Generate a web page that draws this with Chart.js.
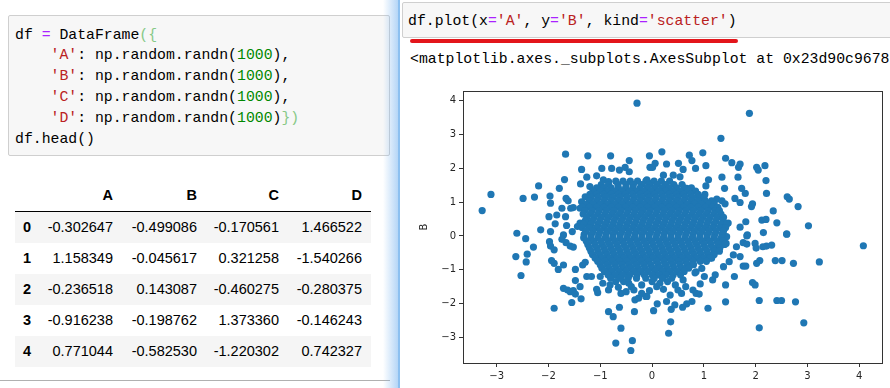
<!DOCTYPE html>
<html>
<head>
<meta charset="utf-8">
<script src="https://cdn.jsdelivr.net/npm/chart.js@4.4.0/dist/chart.umd.min.js"></script>
<style>
  body { margin: 0; width: 890px; height: 388px; background: #fff; position: relative; overflow: hidden; font-family: "Liberation Sans", Arial, sans-serif; }
  .box { position: absolute; background: #f7f7f7; border: 1px solid #cfcfcf; border-radius: 2px; box-sizing: border-box; }
  .code { position: absolute; font-family: "Liberation Mono", monospace; font-size: 14.8px; line-height: 20.8px; white-space: pre; color: #000; }
  .op { color: #a2f; }
  .str { color: #ba2121; }
  .num { color: #080; }
  .br { color: #86c986; }
  #table { position: absolute; left: 15px; top: 180px; width: 356px; font-size: 14.5px; color: #000; }
  .row { position: relative; height: 31px; line-height: 31px; }
  .row div { position: absolute; top: 0; text-align: right; }
  .head { font-weight: bold; border-bottom: 1px solid #000; height: 31px; }
  .even { background: #f5f5f5; }
  .idx { font-weight: bold; left: 8px; text-align: left !important; }
  #sel { position: absolute; left: 383px; top: 0; width: 15px; height: 388px; background: linear-gradient(to right, rgba(120,180,240,0), rgba(120,180,240,0.55)); }
  #right { position: absolute; left: 398px; top: 0; width: 492px; height: 388px; background: #fff; border-left: 2px solid #8cc0f0; box-sizing: border-box; }
  #chart { position: absolute; left: 400px; top: 80px; }
</style>
</head>
<body>

<div class="box" style="left:8px; top:15px; width:382px; height:141px;"></div>
<div class="code" style="left:15px; top:24.6px;">df <span class="op">=</span> DataFrame<span class="br">({</span>
    <span class="str">'A'</span>: np.random.randn(<span class="num">1000</span>),
    <span class="str">'B'</span>: np.random.randn(<span class="num">1000</span>),
    <span class="str">'C'</span>: np.random.randn(<span class="num">1000</span>),
    <span class="str">'D'</span>: np.random.randn(<span class="num">1000</span>)<span class="br">})</span>
df.head()</div>

<div id="table"></div>
<div style="position:absolute; left:0; top:380px; width:390px; height:1px; background:#b0b0b0;"></div>

<div id="sel"></div>
<div id="right"></div>
<div class="box" style="left:402px; top:2px; width:500px; height:36px;"></div>
<div class="code" style="left:408px; top:10.6px;">df.plot(x<span class="op">=</span><span class="str">'A'</span>, y<span class="op">=</span><span class="str">'B'</span>, kind<span class="op">=</span><span class="str">'scatter'</span>)</div>
<div style="position:absolute; left:410px; top:39px; width:328px; height:3.5px; background:#e3151b; border-radius:2px;"></div>
<div class="code" style="left:410px; top:48.6px;">&lt;matplotlib.axes._subplots.AxesSubplot at 0x23d90c9678</div>

<canvas id="chart" width="490" height="308"></canvas>

<script>
// df.head() table
const tableColumns = ["A", "B", "C", "D"];
const tableIndex = ["0", "1", "2", "3", "4"];
const colA = ["-0.302647", "1.158349", "-0.236518", "-0.916238", "0.771044"];
const colB = ["-0.499086", "-0.045617", "0.143087", "-0.198762", "-0.582530"];
const colC = ["-0.170561", "0.321258", "-0.460275", "1.373360", "-1.220302"];
const colD = ["1.466522", "-1.540266", "-0.280375", "-0.146243", "0.742327"];

// scatter axes
const xTicks = [-3, -2, -1, 0, 1, 2, 3, 4];
const yTicks = [-3, -2, -1, 0, 1, 2, 3, 4];
const yTitle = "B";

// points, [A, B]
const outerPoints = [
  [-0.29, 3.93], [-3.28, 0.75], [-3.11, 1.23], [-1.67, 2.42], [-1.24, 2.37], [-0.80, 2.37], [-2.49, 1.11], [-2.27, 1.15],
  [-2.19, 1.48], [-1.97, 1.18], [-1.96, 0.97], [-1.79, 1.41], [-1.69, 1.67], [-1.36, 1.97], [-1.26, 1.74], [-1.07, 1.78],
  [-0.97, 2.0], [-0.78, 2.0], [-0.63, 1.95], [-0.52, 2.03], [-0.44, 2.23], [-0.44, 1.90], [-0.05, 2.37], [-0.04, 2.03],
  [-2.61, 0.08], [-2.44, -0.08], [-2.15, 0.18], [-1.96, 0.13], [-1.99, 0.57], [-1.84, 0.62], [-1.74, 0.82], [-1.67, 0.57],
  [-1.87, 0.36], [-1.65, 0.31], [-1.66, 1.11], [-1.62, 1.04], [-1.57, 0.82], [-1.52, 0.84], [-1.39, 0.82], [-1.54, 0.13],
  [-1.71, 0.03], [-1.38, 1.54], [-1.20, 1.46], [-1.36, 1.01], [-1.29, 1.16], [-1.39, 0.38], [-1.44, 0.28], [-1.20, 0.38],
  [-1.03, 1.41], [-0.94, 1.66], [-0.84, 1.61], [-0.91, 1.16],
  [1.88, 3.63], [1.33, 2.89], [0.19, 2.49], [0.72, 2.39], [0.77, 2.23], [0.98, 2.46], [1.04, 2.08], [0.84, 2.0],
  [0.60, 1.97], [0.51, 2.15], [0.28, 2.13], [0.06, 2.15], [0.01, 2.03], [1.42, 2.30], [1.54, 2.17], [1.70, 2.13],
  [1.67, 2.03], [2.02, 2.03], [2.05, 1.95], [2.18, 2.08], [1.35, 1.74], [1.66, 1.74], [2.20, 1.64], [1.09, 1.66],
  [1.04, 1.48], [1.40, 1.41], [1.73, 1.41], [1.80, 1.26], [2.21, 1.26], [2.61, 1.16], [2.65, 1.09], [2.82, 0.87],
  [2.34, 0.74], [1.94, 0.95], [1.92, 0.87], [1.60, 1.11], [1.70, 0.99], [1.25, 1.09], [1.35, 1.04], [1.41, 0.95],
  [2.12, 0.47], [2.20, 0.49], [2.41, 0.39], [3.02, 0.30], [2.60, 0.06], [2.15, 0.10], [1.81, 0.42], [1.70, 0.26],
  [1.84, 0.03], [1.47, 0.38], [1.04, 0.95], [0.96, 1.11], [0.77, 1.11], [0.67, 1.41], [0.54, 1.75], [0.41, 1.80],
  [0.22, 1.80], [-0.10, 1.66], [-0.04, 1.56],
  [-2.29, -0.33], [-2.41, -0.54], [-2.63, -0.61], [-2.43, -0.77], [-2.53, -1.17], [-1.98, -0.17], [-1.96, -0.30], [-1.89, -0.41],
  [-1.94, -0.73], [-1.89, -0.81], [-1.71, -0.86], [-1.81, -0.99], [-1.74, -0.10], [-1.66, -0.20], [-1.58, -0.30], [-1.52, -0.33],
  [-1.48, -0.99], [-1.48, -1.32], [-1.71, -1.55], [-1.63, -1.60], [-1.58, -1.65], [-1.52, -1.62], [-1.48, -1.72], [-1.39, -1.50],
  [-1.37, -1.86], [-1.55, -1.97], [-1.89, -2.14], [-1.34, -0.86], [-1.29, -0.78], [-1.26, -1.20], [-1.17, -1.20], [-1.07, -1.58],
  [-1.05, -1.68], [-1.00, -1.20], [-0.84, -2.24], [-0.75, -2.39], [-0.63, -2.11], [-0.60, -2.73], [-0.70, -3.17], [-0.38, -3.10],
  [-0.41, -3.39], [-0.34, -2.24], [-0.60, -1.70], [-0.65, -1.52], [-0.33, -1.89], [-0.26, -1.84], [-0.12, -1.79], [-0.84, -1.60],
  [-0.81, -1.45],
  [4.08, -0.29], [3.23, -0.77], [2.73, -0.81], [2.38, -0.73], [2.51, -0.73], [2.60, 0.05], [2.21, -0.30], [2.31, -0.27],
  [2.14, -0.32], [1.99, -0.22], [2.01, -0.36], [2.08, -0.73], [2.02, -0.81], [1.83, 0.0], [1.76, -0.20], [1.83, -0.24],
  [1.63, -0.32], [1.57, -0.56], [1.70, -0.61], [1.76, -0.89], [1.81, -0.89], [1.59, -1.20], [1.38, -0.91], [1.49, -0.76],
  [1.94, -1.38], [1.99, -1.45], [1.42, -1.45], [2.07, -1.91], [2.41, -1.91], [2.50, -1.91], [2.77, -1.95], [2.93, -2.57],
  [2.07, -2.72], [1.42, -1.95], [1.08, -2.14], [1.01, -1.20], [0.96, -0.96], [0.85, -1.06], [1.17, -1.30], [1.22, -1.15],
  [0.93, -1.42], [0.85, -1.70], [0.91, -1.72], [0.79, -1.60], [0.77, -1.94], [0.67, -2.01], [0.59, -2.11], [0.57, -1.70],
  [0.36, -2.54], [0.32, -2.88], [0.37, -2.17], [0.03, -2.21], [0.10, -2.01], [0.28, -1.94], [0.44, -2.04], [-0.10, -1.79],
  [0.09, -1.50], [0.22, -1.58], [0.83, -1.09], [1.43, -0.22], [1.44, -0.02], [1.25, -0.36], [1.15, -0.66],
  [0.0, -1.35], [0.15, -1.40], [0.30, -1.35], [0.45, -1.45], [0.60, -1.30], [-0.20, -1.45], [-0.40, -1.50], [-0.55, -1.35],
  [0.50, -1.60], [-0.05, -1.62], [0.35, -1.75], [0.65, -1.50], [-0.70, -1.35], [-0.50, -1.65], [-0.35, -1.60], [-0.20, -1.70],
  [-0.95, -1.40], [-0.45, -1.40]
];

// the dense middle, one row per B value: [B, [A, A, ...]]
const coreRows = [
  [1.62, [-0.7, -0.56, -0.42, -0.28, -0.12, 0.04, 0.18, 0.34]],
  [1.52, [-0.98, -0.84, -0.66, -0.5, -0.36, -0.2, -0.06, 0.1, 0.26, 0.42, 0.58]],
  [1.42, [-1.07, -0.93, -0.79, -0.65, -0.51, -0.37, -0.23, -0.09, 0.05, 0.19, 0.33, 0.47, 0.62, 0.76]],
  [1.33, [-1.14, -1.0, -0.86, -0.72, -0.58, -0.44, -0.3, -0.16, -0.02, 0.12, 0.26, 0.4, 0.54, 0.7, 0.84]],
  [1.23, [-1.2, -1.07, -0.93, -0.79, -0.65, -0.51, -0.37, -0.23, -0.09, 0.05, 0.19, 0.33, 0.47, 0.61, 0.75, 0.89, 1.02]],
  [1.14, [-1.18, -1.04, -0.9, -0.76, -0.62, -0.48, -0.34, -0.2, -0.06, 0.08, 0.22, 0.36, 0.5, 0.64, 0.78, 0.92, 1.0]],
  [1.04, [-1.21, -1.07, -0.93, -0.79, -0.65, -0.51, -0.37, -0.23, -0.09, 0.05, 0.19, 0.33, 0.47, 0.61, 0.75, 0.89, 1.03, 1.15]],
  [0.94, [-1.28, -1.14, -1.0, -0.86, -0.72, -0.58, -0.44, -0.3, -0.16, -0.02, 0.12, 0.26, 0.4, 0.54, 0.68, 0.82, 0.96, 1.1, 1.2]],
  [0.85, [-1.35, -1.21, -1.07, -0.93, -0.79, -0.65, -0.51, -0.37, -0.23, -0.09, 0.05, 0.19, 0.33, 0.47, 0.61, 0.75, 0.89, 1.03, 1.17, 1.27]],
  [0.75, [-1.3, -1.16, -1.02, -0.88, -0.74, -0.6, -0.46, -0.32, -0.18, -0.04, 0.1, 0.24, 0.38, 0.52, 0.66, 0.8, 0.94, 1.08, 1.22, 1.3]],
  [0.65, [-1.33, -1.19, -1.05, -0.91, -0.77, -0.63, -0.49, -0.35, -0.21, -0.07, 0.07, 0.21, 0.35, 0.49, 0.63, 0.77, 0.91, 1.05, 1.19, 1.33]],
  [0.55, [-1.26, -1.12, -0.98, -0.84, -0.7, -0.56, -0.42, -0.28, -0.14, 0.0, 0.14, 0.28, 0.42, 0.56, 0.7, 0.84, 0.98, 1.12, 1.26, 1.38]],
  [0.45, [-1.29, -1.15, -1.01, -0.87, -0.73, -0.59, -0.45, -0.31, -0.17, -0.03, 0.11, 0.25, 0.39, 0.53, 0.67, 0.81, 0.95, 1.09, 1.23, 1.37]],
  [0.35, [-1.32, -1.18, -1.04, -0.9, -0.76, -0.62, -0.48, -0.34, -0.2, -0.06, 0.08, 0.22, 0.36, 0.5, 0.64, 0.78, 0.92, 1.06, 1.2, 1.34, 1.44]],
  [0.25, [-1.35, -1.21, -1.07, -0.93, -0.79, -0.65, -0.51, -0.37, -0.23, -0.09, 0.05, 0.19, 0.33, 0.47, 0.61, 0.75, 0.89, 1.03, 1.17, 1.31, 1.42]],
  [0.15, [-1.28, -1.14, -1.0, -0.86, -0.72, -0.58, -0.44, -0.3, -0.16, -0.02, 0.12, 0.26, 0.4, 0.54, 0.68, 0.82, 0.96, 1.1, 1.24, 1.38]],
  [0.05, [-1.31, -1.17, -1.03, -0.89, -0.75, -0.61, -0.47, -0.33, -0.19, -0.05, 0.09, 0.23, 0.37, 0.51, 0.65, 0.79, 0.93, 1.07, 1.21, 1.35]],
  [-0.05, [-1.32, -1.18, -1.04, -0.9, -0.76, -0.62, -0.48, -0.34, -0.2, -0.06, 0.08, 0.22, 0.36, 0.5, 0.64, 0.78, 0.92, 1.06, 1.2, 1.34]],
  [-0.15, [-1.27, -1.13, -0.99, -0.85, -0.71, -0.57, -0.43, -0.29, -0.15, -0.01, 0.13, 0.27, 0.41, 0.55, 0.69, 0.83, 0.97, 1.11, 1.25, 1.37]],
  [-0.25, [-1.24, -1.1, -0.96, -0.82, -0.68, -0.54, -0.4, -0.26, -0.12, 0.02, 0.16, 0.3, 0.44, 0.58, 0.72, 0.86, 1.0, 1.14, 1.28, 1.4]],
  [-0.35, [-1.21, -1.07, -0.93, -0.79, -0.65, -0.51, -0.37, -0.23, -0.09, 0.05, 0.19, 0.33, 0.47, 0.61, 0.75, 0.89, 1.03, 1.17, 1.31]],
  [-0.45, [-1.18, -1.04, -0.9, -0.76, -0.62, -0.48, -0.34, -0.2, -0.06, 0.08, 0.22, 0.36, 0.5, 0.64, 0.78, 0.92, 1.06, 1.2, 1.3]],
  [-0.55, [-1.15, -1.01, -0.87, -0.73, -0.59, -0.45, -0.31, -0.17, -0.03, 0.11, 0.25, 0.39, 0.53, 0.67, 0.81, 0.95, 1.09, 1.2]],
  [-0.65, [-1.1, -0.96, -0.82, -0.68, -0.54, -0.4, -0.26, -0.12, 0.02, 0.16, 0.3, 0.44, 0.58, 0.72, 0.86, 1.0, 1.12]],
  [-0.75, [-1.05, -0.91, -0.77, -0.63, -0.49, -0.35, -0.21, -0.07, 0.09, 0.23, 0.37, 0.51, 0.65, 0.79, 0.93, 1.05]],
  [-0.85, [-1.0, -0.86, -0.72, -0.58, -0.44, -0.3, -0.16, -0.02, 0.12, 0.26, 0.4, 0.54, 0.68, 0.8]],
  [-0.95, [-0.97, -0.83, -0.69, -0.55, -0.41, -0.27, -0.13, 0.01, 0.15, 0.29, 0.43, 0.57, 0.71]],
  [-1.05, [-0.92, -0.78, -0.64, -0.5, -0.36, -0.22, -0.08, 0.06, 0.2, 0.34, 0.48, 0.62]],
  [-1.15, [-0.85, -0.71, -0.57, -0.43, -0.29, -0.15, 0.0, 0.13, 0.27, 0.41, 0.55]],
  [-1.25, [-0.8, -0.62, -0.46, -0.3, -0.12, 0.04, 0.2, 0.38]]
];

// build the table
const cols = [colA, colB, colC, colD];
const rightEdges = [98, 182, 264, 347]; // text right edge, from table left
let html = `<div class="row head">`;
tableColumns.forEach((c, i) => {
  html += `<div style="right:${356 - rightEdges[i]}px">${c}</div>`;
});
html += `</div>`;
tableIndex.forEach((idx, r) => {
  html += `<div class="row ${r % 2 === 0 ? "even" : ""}"><div class="idx">${idx}</div>`;
  cols.forEach((col, i) => {
    html += `<div style="right:${356 - rightEdges[i]}px">${col[r]}</div>`;
  });
  html += `</div>`;
});
document.querySelector("#table").innerHTML = html;

// scatter
const points = [];
outerPoints.forEach(([a, b]) => points.push({ x: a, y: b }));
coreRows.forEach(([b, as]) => as.forEach((a) => points.push({ x: a, y: b })));

const minus = (v) => (v < 0 ? "\u2212" + Math.abs(v) : String(v));

const framePlugin = {
  id: "frame",
  afterDraw(chart) {
    const { ctx, chartArea } = chart;
    ctx.save();
    ctx.strokeStyle = "#333";
    ctx.lineWidth = 1;
    ctx.strokeRect(chartArea.left + 0.5, chartArea.top + 0.5, chartArea.right - chartArea.left, chartArea.bottom - chartArea.top);
    ctx.restore();
  },
};

const tickFont = { family: "DejaVu Sans", size: 10 };

new Chart(document.querySelector("#chart"), {
  type: "scatter",
  data: {
    datasets: [
      {
        data: points,
        backgroundColor: "#1f77b4",
        borderWidth: 0,
        pointRadius: 3.6,
      },
    ],
  },
  options: {
    responsive: false,
    animation: false,
    events: [],
    devicePixelRatio: 1,
    layout: { padding: { top: 11, right: 8, left: 0, bottom: 0 } },
    plugins: { legend: { display: false }, tooltip: { enabled: false } },
    scales: {
      x: {
        type: "linear",
        min: -3.65,
        max: 4.44,
        afterBuildTicks: (scale) => { scale.ticks = xTicks.map((v) => ({ value: v })); },
        afterFit: (scale) => { scale.height = 25; },
        ticks: { callback: minus, font: tickFont, color: "#262626", padding: 3, maxRotation: 0 },
        grid: { drawOnChartArea: false, drawTicks: true, tickLength: 4, color: "#333" },
        border: { display: false },
      },
      y: {
        type: "linear",
        min: -3.76,
        max: 4.29,
        afterBuildTicks: (scale) => { scale.ticks = yTicks.map((v) => ({ value: v })); },
        afterFit: (scale) => { scale.width = 63; },
        ticks: { callback: minus, font: tickFont, color: "#262626", padding: 3 },
        grid: { drawOnChartArea: false, drawTicks: true, tickLength: 4, color: "#333" },
        border: { display: false },
        title: { display: true, text: yTitle, font: tickFont, color: "#262626", padding: { top: 18, bottom: 0 } },
      },
    },
  },
  plugins: [framePlugin],
});
</script>
</body>
</html>
